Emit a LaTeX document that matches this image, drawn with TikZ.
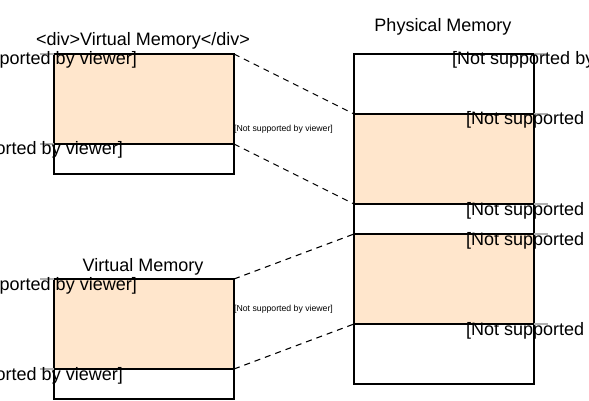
\documentclass[tikz,border=0pt]{standalone}
\usepackage{fontspec}
\setmainfont{Liberation Sans}
\newcommand{\bigfont}{\fontsize{18}{20}\selectfont}
\newcommand{\smallfont}{\fontsize{8.7}{10}\selectfont}
\definecolor{peach}{HTML}{FFE6CC}
\begin{document}
\begin{tikzpicture}[x=1pt,y=-1pt,
  seg/.style={draw,fill=white,line width=1.3pt,inner sep=0pt,outer sep=0pt,minimum width=180pt,anchor=north west},
  used/.style={seg,fill=peach},
  map/.style={line width=1.1pt,dash pattern=on 6pt off 5pt},
  lbl/.style={font=\bigfont,inner sep=0pt},
  tick/.style={draw=gray!60,line width=1.3pt}]
\useasboundingbox (0,0) rectangle (589,401);
\clip (0,0) rectangle (589,401);

% virtual memory, top
\node[seg,minimum height=30pt] (vAfree) at (54,144) {};
\node[used,minimum height=90pt] (vA) at (54,54) {};
\node[lbl,anchor=base] (vAtitle) at (143,46) {<div>Virtual Memory</div>};

% virtual memory, bottom
\node[seg,minimum height=30pt] (vBfree) at (54,369) {};
\node[used,minimum height=90pt] (vB) at (54,279) {};
\node[lbl,anchor=base] (vBtitle) at (143,271) {Virtual Memory};

% physical memory
\node[seg,minimum height=330pt] (pm) at (354,54) {};
\node[used,minimum height=90pt] (pA) at (354,114) {};
\node[used,minimum height=90pt] (pB) at (354,234) {};
\node[lbl,anchor=base] (pmtitle) at (443,32) {Physical Memory};

% label ticks
\draw[tick] (vA.north west) -- ++(-14,0);
\draw[tick] (vA.south west) -- ++(-14,0);
\draw[tick] (vB.north west) -- ++(-14,0);
\draw[tick] (vB.south west) -- ++(-14,0);
\draw[tick] (pm.north east) -- ++(14,0);
\draw[tick] (pA.north east) -- ++(14,0);
\draw[tick] (pA.south east) -- ++(14,0);
\draw[tick] (pB.north east) -- ++(14,0);
\draw[tick] (pB.south east) -- ++(14,0);

% labels
\node[lbl,anchor=base east] (vAl1) at (137,65) {[Not supported by viewer]};
\node[lbl,anchor=base east] (vAl2) at (123,155) {[Not supported by viewer]};
\node[lbl,anchor=base east] (vBl1) at (137,290) {[Not supported by viewer]};
\node[lbl,anchor=base east] (vBl2) at (123,380) {[Not supported by viewer]};
\node[lbl,anchor=base west] (pml0) at (452,65) {[Not supported by viewer]};
\node[lbl,anchor=base west] (pAl1) at (466,125) {[Not supported by viewer]};
\node[lbl,anchor=base west] (pAl2) at (466,215) {[Not supported by viewer]};
\node[lbl,anchor=base west] (pBl1) at (466,245) {[Not supported by viewer]};
\node[lbl,anchor=base west] (pBl2) at (466,335) {[Not supported by viewer]};
\node[font=\smallfont,inner sep=0pt,anchor=west] (mapAl) at (234,129) {[Not supported by viewer]};
\node[font=\smallfont,inner sep=0pt,anchor=west] (mapBl) at (234,309) {[Not supported by viewer]};

% mappings
\draw[map] (vA.north east) -- (pA.north west);
\draw[map] (vA.south east) -- (pA.south west);
\draw[map] (vB.north east) -- (pB.north west);
\draw[map] (vB.south east) -- (pB.south west);
\end{tikzpicture}
\end{document}
